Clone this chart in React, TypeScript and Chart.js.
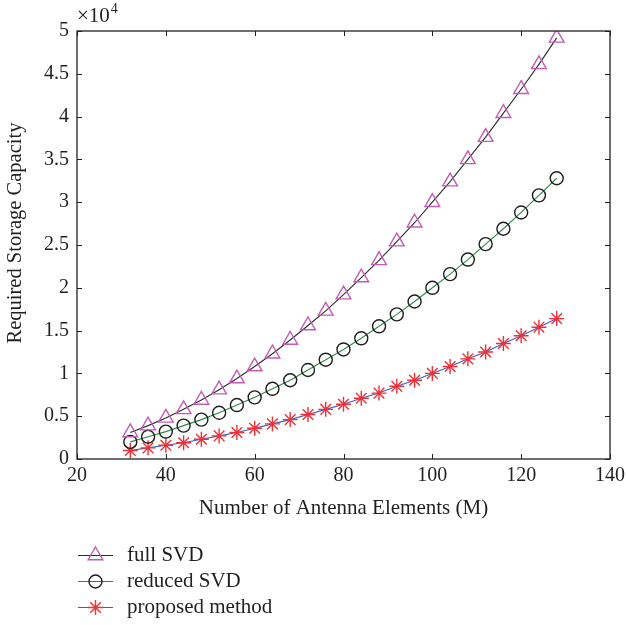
import React, { useEffect, useRef } from "react";
import { Chart, registerables } from "chart.js";

Chart.register(...registerables);

const antennaM = [32, 36, 40, 44, 48, 52, 56, 60, 64, 68, 72, 76, 80, 84, 88, 92, 96, 100, 104, 108, 112, 116, 120, 124, 128];
const fullSVD = [3100, 3900, 4800, 5800, 6900, 8100, 9400, 10800, 12300, 13900, 15600, 17300, 19200, 21200, 23200, 25400, 27600, 30000, 32400, 35000, 37600, 40400, 43200, 46100, 49200];
const reducedSVD = [2000, 2600, 3200, 3900, 4600, 5400, 6300, 7200, 8200, 9200, 10400, 11600, 12800, 14100, 15500, 16900, 18400, 20000, 21600, 23300, 25100, 26900, 28800, 30800, 32800];
const proposed = [1000, 1300, 1600, 1900, 2300, 2700, 3100, 3600, 4100, 4600, 5200, 5800, 6400, 7100, 7700, 8500, 9200, 10000, 10800, 11700, 12500, 13500, 14400, 15400, 16400];
const seriesNames = ["full SVD", "reduced SVD", "proposed method"];
const xTickValues = [20, 40, 60, 80, 100, 120, 140];
const yTickValues = [0, 5000, 10000, 15000, 20000, 25000, 30000, 35000, 40000, 45000, 50000];

const FONT = '"Liberation Serif", "DejaVu Serif", serif';
const TEXT = "#231f20";
const lineColors = ["#2b2b2b", "#2f8a45", "#3d5fbf"];
const markerColors = ["#c25cb5", "#1e1e1e", "#ee3038"];
const markerStyles = ["triangle", "circle", "star"];
const markerSizes = [8.5, 6.5, 7.5];

function drawMarker(ctx, style, x, y, r, color) {
  ctx.save();
  ctx.strokeStyle = color;
  ctx.lineWidth = 1.4;
  ctx.beginPath();
  if (style === "triangle") {
    let rad = 0;
    ctx.moveTo(x + Math.sin(rad) * r, y - Math.cos(rad) * r);
    rad += (2 * Math.PI) / 3;
    ctx.lineTo(x + Math.sin(rad) * r, y - Math.cos(rad) * r);
    rad += (2 * Math.PI) / 3;
    ctx.lineTo(x + Math.sin(rad) * r, y - Math.cos(rad) * r);
    ctx.closePath();
  } else if (style === "circle") {
    ctx.arc(x, y, r, 0, Math.PI * 2);
  } else {
    for (let i = 0; i < 4; i++) {
      const a = (i * Math.PI) / 4;
      const dx = Math.cos(a) * r;
      const dy = Math.sin(a) * r;
      ctx.moveTo(x - dx, y - dy);
      ctx.lineTo(x + dx, y + dy);
    }
  }
  ctx.stroke();
  ctx.restore();
}

const framePlugin = {
  id: "frame",
  afterDraw(chart) {
    const { ctx, chartArea: a, scales } = chart;
    const xs = scales.x;
    const ys = scales.y;
    ctx.save();
    ctx.strokeStyle = TEXT;
    ctx.lineWidth = 1.3;
    ctx.strokeRect(a.left, a.top, a.right - a.left, a.bottom - a.top);
    ctx.lineWidth = 1;
    ctx.beginPath();
    const tl = 5;
    xTickValues.forEach((v) => {
      const px = Math.round(xs.getPixelForValue(v)) + 0.5;
      ctx.moveTo(px, a.bottom);
      ctx.lineTo(px, a.bottom - tl);
      ctx.moveTo(px, a.top);
      ctx.lineTo(px, a.top + tl);
    });
    yTickValues.forEach((v) => {
      const py = Math.round(ys.getPixelForValue(v)) + 0.5;
      ctx.moveTo(a.left, py);
      ctx.lineTo(a.left + tl, py);
      ctx.moveTo(a.right, py);
      ctx.lineTo(a.right - tl, py);
    });
    ctx.stroke();

    // exponent label
    ctx.fillStyle = TEXT;
    ctx.textBaseline = "alphabetic";
    ctx.textAlign = "left";
    ctx.font = `21px ${FONT}`;
    ctx.fillText("×10", a.left, 22);
    const w = ctx.measureText("×10").width;
    ctx.font = `14px ${FONT}`;
    ctx.fillText("4", a.left + w + 1, 13);

    // axis titles
    ctx.font = `21px ${FONT}`;
    ctx.textAlign = "center";
    ctx.textBaseline = "middle";
    ctx.fillText("Number of Antenna Elements (M)", (a.left + a.right) / 2, 508);
    ctx.save();
    ctx.font = `20.5px ${FONT}`;
    ctx.translate(16, 233);
    ctx.rotate(-Math.PI / 2);
    ctx.fillText("Required Storage Capacity", 0, 0);
    ctx.restore();

    // legend
    const rows = [555, 581, 607];
    rows.forEach((ry, i) => {
      ctx.strokeStyle = lineColors[i];
      ctx.lineWidth = 1.2;
      ctx.beginPath();
      ctx.moveTo(78, ry + 0.5);
      ctx.lineTo(113, ry + 0.5);
      ctx.stroke();
      drawMarker(ctx, markerStyles[i], 95.5, ry + 0.5, markerSizes[i], markerColors[i]);
      ctx.fillStyle = TEXT;
      ctx.font = `21px ${FONT}`;
      ctx.textAlign = "left";
      ctx.textBaseline = "middle";
      ctx.fillText(seriesNames[i], 127, ry);
    });
    ctx.restore();
  },
};

export default function App() {
  const ref = useRef(null);
  useEffect(() => {
    const series = [fullSVD, reducedSVD, proposed];
    const chart = new Chart(ref.current, {
      type: "line",
      data: {
        datasets: series.map((vals, i) => ({
          label: seriesNames[i],
          data: antennaM.map((m, j) => ({ x: m, y: vals[j] })),
          borderColor: lineColors[i],
          backgroundColor: "transparent",
          borderWidth: 1.1,
          pointStyle: markerStyles[i],
          pointRadius: markerSizes[i],
          pointBorderColor: markerColors[i],
          pointBackgroundColor: "transparent",
          pointBorderWidth: 1.4,
          fill: false,
          tension: 0,
        })),
      },
      options: {
        responsive: false,
        animation: false,
        layout: { padding: { top: 31, right: 16, left: 0, bottom: 0 } },
        plugins: { legend: { display: false }, tooltip: { enabled: false } },
        scales: {
          x: {
            type: "linear",
            min: 20,
            max: 140,
            afterBuildTicks: (s) => {
              s.ticks = xTickValues.map((v) => ({ value: v }));
            },
            afterFit: (s) => {
              s.height = 166;
              s.paddingRight = 0;
              s.paddingLeft = 0;
            },
            ticks: {
              color: TEXT,
              font: { family: FONT, size: 20 },
              padding: 5,
              maxRotation: 0,
              callback: (v) => String(v),
            },
            grid: { display: false, drawTicks: false },
            border: { display: false },
          },
          y: {
            type: "linear",
            min: 0,
            max: 50000,
            afterBuildTicks: (s) => {
              s.ticks = yTickValues.map((v) => ({ value: v }));
            },
            afterFit: (s) => {
              s.width = 77;
              s.paddingTop = 0;
              s.paddingBottom = 0;
            },
            ticks: {
              color: TEXT,
              font: { family: FONT, size: 20 },
              padding: 8,
              callback: (v) => String(Number(v) / 10000),
            },
            grid: { display: false, drawTicks: false },
            border: { display: false },
          },
        },
      },
      plugins: [framePlugin],
    });
    return () => chart.destroy();
  }, []);
  return (
    <div style={{ position: "fixed", left: 0, top: 0, width: 626, height: 625, background: "#fff" }}>
      <canvas ref={ref} width={626} height={625} style={{ display: "block" }} />
    </div>
  );
}
